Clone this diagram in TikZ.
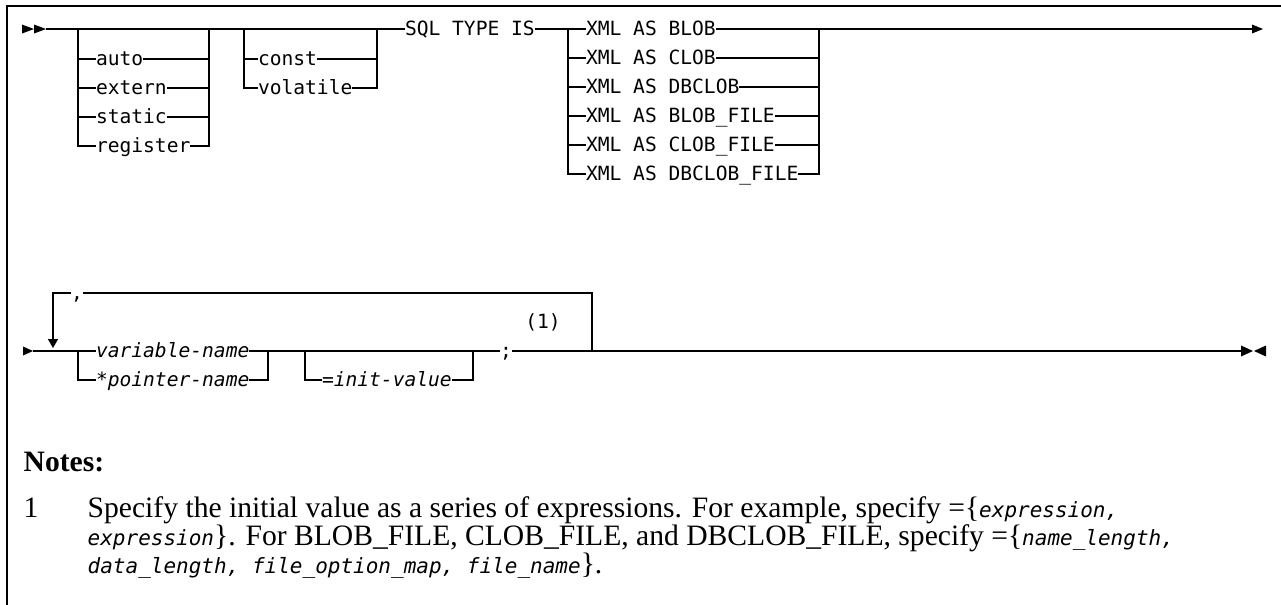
\documentclass[tikz,border=0pt]{standalone}
\usepackage{fontspec}
\setmainfont{Liberation Serif}
\newfontfamily\railfont{DejaVu Sans Mono}
\usetikzlibrary{arrows.meta,positioning}
\newcommand\railvar[1]{{\railfont\itshape\fontsize{10.5}{12}\selectfont #1}}

\begin{document}
\begin{tikzpicture}[x=0.5pt, y=-0.5pt, line width=0.7pt,
  kw/.style={font=\railfont\fontsize{9.8}{10}\selectfont, inner sep=0pt, outer sep=0pt, text height=9pt, text depth=2.5pt, anchor=west},
  var/.style={kw, font=\railfont\itshape\fontsize{9.8}{10}\selectfont},
  note/.style={inner sep=0pt, anchor=base west, font=\fontsize{14.8}{17}\selectfont},
  back/.style={-{Triangle[length=4.5pt, width=5pt]}}]
  \useasboundingbox (0,0) rectangle (1281,605);
  \draw[line width=0.75pt] (1281,6) -- (7,6) -- (7,605);

  % first row: storage class, qualifier, XML type
  \fill (22,24.5) -- (34,29) -- (22,33.5) -- cycle (34,24.5) -- (46,29) -- (34,33.5) -- cycle;
  \coordinate (start) at (46,29);
  \coordinate (c1l) at (78,29);  \coordinate (c1r) at (209,29);
  \coordinate (q1l) at (244,29); \coordinate (q1r) at (377,29);
  \coordinate (x1l) at (568,29); \coordinate (x1r) at (819,29);
  \coordinate (end) at (1252,29);
  \node[kw] (auto) at (96,59) {auto};
  \node[kw] (extern) at (96,88) {extern};
  \node[kw] (static) at (96,117) {static};
  \node[kw] (register) at (96,146) {register};
  \node[kw] (const) at (258,59) {const};
  \node[kw] (volatile) at (258,88) {volatile};
  \node[kw] (sqltype) at (405,29) {SQL TYPE IS};
  \node[kw] (xblob) at (586,29) {XML AS BLOB};
  \node[kw] (xclob) at (586,58) {XML AS CLOB};
  \node[kw] (xdbclob) at (586,87) {XML AS DBCLOB};
  \node[kw] (xblobf) at (586,116) {XML AS BLOB\_FILE};
  \node[kw] (xclobf) at (586,145) {XML AS CLOB\_FILE};
  \node[kw] (xdbclobf) at (586,174) {XML AS DBCLOB\_FILE};
  \draw (start) -- (sqltype.west);
  \draw (sqltype.east) -- (xblob.west);
  \draw (xblob.east) -- (end);
  \fill (1252,24.5) -- (1263,29) -- (1252,33.5) -- cycle;
  \draw (c1l) |- (register.west); \draw (register.east) -| (c1r);
  \foreach \n in {auto, extern, static}
    \draw (c1l |- \n.west) -- (\n.west) (\n.east) -- (c1r |- \n.east);
  \draw (q1l) |- (volatile.west); \draw (volatile.east) -| (q1r);
  \draw (q1l |- const.west) -- (const.west) (const.east) -- (q1r |- const.east);
  \draw (x1l) |- (xdbclobf.west); \draw (xdbclobf.east) -| (x1r);
  \foreach \n in {xclob, xdbclob, xblobf, xclobf}
    \draw (x1l |- \n.west) -- (\n.west) (\n.east) -- (x1r |- \n.east);

  % second row: names, initializer, repeat loop
  \fill (23,346.5) -- (33,351) -- (23,355.5) -- cycle;
  \coordinate (start2) at (33,351);
  \coordinate (rep) at (53,348);
  \coordinate (n2l) at (78,351);  \coordinate (n2r) at (268,351);
  \coordinate (i2l) at (305,351); \coordinate (i2r) at (473,351);
  \coordinate (loopr) at (592,351);
  \coordinate (end2) at (1241,351);
  \node[var] (varname) at (96,351) {variable-name};
  \node[var] (ptrname) at (96,380) {*pointer-name};
  \node[var] (initval) at (322,380) {=init-value};
  \node[kw, anchor=center] (semi) at (506,351) {;};
  \node[kw, anchor=center] (ref1) at (543,322) {(1)};
  \node[kw, anchor=center] (comma) at (77,293) {,};
  \draw (start2) -- (varname.west);
  \draw (varname.east) -- (semi.west);
  \draw (semi.east) -- (end2);
  \fill (1241,345.5) -- (1253,351) -- (1241,356.5) -- cycle (1266,345.5) -- (1254,351) -- (1266,356.5) -- cycle;
  \draw (n2l) |- (ptrname.west); \draw (ptrname.east) -| (n2r);
  \draw (i2l) |- (initval.west); \draw (initval.east) -| (i2r);
  \draw (loopr) |- (comma.east);
  \draw[back] (comma.west) -| (rep);

  % notes
  \node[note, font=\bfseries\fontsize{14.8}{17}\selectfont] (notes) at (23,471) {Notes:};
  \node[note] (num1) at (23,517) {1};
  \node[note] (line1) at (87,517) {Specify the initial value as a series of expressions. For example, specify =\{\railvar{expression,}};
  \node[note] (line2) at (87,545) {\railvar{expression}\}. For BLOB\_FILE, CLOB\_FILE, and DBCLOB\_FILE, specify =\{\railvar{name\_length,}};
  \node[note] (line3) at (87,573) {\railvar{data\_length, file\_option\_map, file\_name}\}.};
\end{tikzpicture}
\end{document}
